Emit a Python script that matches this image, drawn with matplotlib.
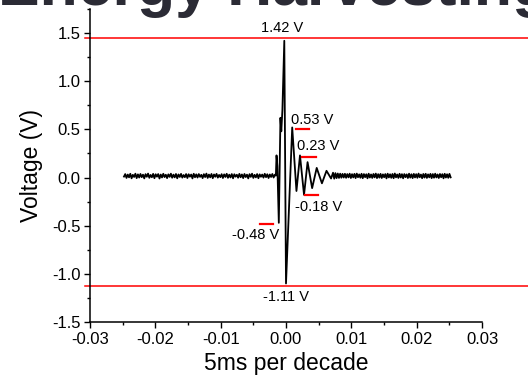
import numpy as np
import matplotlib
matplotlib.use("Agg")
import matplotlib.pyplot as plt
from matplotlib.ticker import MultipleLocator, FormatStrFormatter

plt.rcParams['font.family'] = ['Liberation Sans', 'DejaVu Sans']

# quiet part of the trace before the pulse (volts)
left_v = [0.010, 0.036, -0.004, 0.031, 0.002, 0.039, -0.008, 0.028, 0.006, 0.040,
          -0.006, 0.033, 0.000, 0.037, 0.004, 0.030, -0.009, 0.035, 0.008, 0.041,
          -0.003, 0.027, 0.003, 0.038, -0.007, 0.034, 0.009, 0.036, -0.010, 0.031,
          0.001, 0.039, 0.005, 0.029, -0.006, 0.033, 0.007, 0.040, -0.002, 0.030,
          0.002, 0.037, -0.008, 0.032, 0.006, 0.038, -0.001, 0.026, 0.004, 0.036,
          -0.005, 0.034, 0.009, 0.031, -0.009, 0.039, 0.003, 0.033, 0.000, 0.036,
          0.007, 0.028, -0.006, 0.035, 0.005, 0.041, -0.004, 0.031, 0.002, 0.037,
          -0.007, 0.032, 0.008, 0.038, -0.001, 0.027, 0.004, 0.035, -0.005, 0.033,
          0.006, 0.039, -0.003, 0.030, 0.001, 0.036, -0.008, 0.034, 0.009, 0.029,
          -0.002, 0.038, 0.003, 0.032, -0.006, 0.037, 0.005, 0.030, -0.009, 0.035,
          0.007, 0.040, -0.004, 0.028, 0.002, 0.036, -0.007, 0.033, 0.008, 0.031,
          -0.001, 0.039, 0.004, 0.034, -0.005, 0.032, 0.006, 0.037, 0.000, 0.030]
# the pulse itself, time in ms
burst_t = [-1.55, -1.45, -1.32, -1.10, -0.95, -0.85, -0.72, -0.55, -0.26, 0.00,
           0.95, 1.60, 2.14, 2.76, 3.30, 4.00, 4.70, 5.50, 6.20, 6.90]
burst_v = [0.02, 0.23, 0.12, -0.47, 0.15, 0.62, 0.48, 0.70, 1.42, -1.10,
           0.52, -0.14, 0.23, -0.18, 0.16, -0.11, 0.10, -0.06, 0.07, -0.01]
# quiet part after the ringing
right_v = [0.050, -0.012, 0.046, -0.006, 0.042, -0.004, 0.040, -0.002, 0.038, 0.000,
           0.039, -0.003, 0.036, 0.002, 0.040, -0.005, 0.035, 0.001, 0.038, -0.006,
           0.041, 0.003, 0.033, -0.002, 0.039, -0.007, 0.036, 0.004, 0.034, -0.008,
           0.040, 0.000, 0.032, -0.004, 0.037, 0.002, 0.041, -0.006, 0.035, -0.001,
           0.038, -0.005, 0.033, 0.003, 0.036, -0.009, 0.040, 0.001, 0.034, -0.003,
           0.037, -0.007, 0.042, 0.002, 0.032, -0.004, 0.039, 0.000, 0.035, -0.008,
           0.036, 0.004, 0.033, -0.005, 0.040, -0.001, 0.034, -0.006, 0.038, 0.001,
           0.035, -0.003, 0.041, 0.003, 0.031, -0.007, 0.037, 0.000, 0.039, -0.004,
           0.033, 0.002, 0.038, -0.006, 0.036, -0.002, 0.040, 0.001, 0.032, -0.005,
           0.037, 0.003, 0.035, -0.008, 0.039, 0.000, 0.034, -0.003, 0.038, 0.002]

# peak levels (red lines) and peak markers
levels = [1.45, -1.13]
mark_x0 = [0.0015, 0.00245, 0.0029, -0.0040]
mark_x1 = [0.0035, 0.00455, 0.0049, -0.0020]
mark_y = [0.50, 0.214, -0.177, -0.485]

labels = ["1.42 V", "0.53 V", "0.23 V", "-0.18 V", "-0.48 V", "-1.11 V"]
lab_x = [-0.0006, 0.00077, 0.00173, 0.00138, -0.00107, 0.0]
lab_y = [1.51, 0.56, 0.283, -0.347, -0.633, -1.285]
lab_ha = ["center", "left", "left", "left", "right", "center"]

t = np.concatenate([np.linspace(-0.0248, -0.0017, len(left_v)),
                    np.array(burst_t) / 1000.0,
                    np.linspace(0.0072, 0.0252, len(right_v))])
v = np.concatenate([left_v, burst_v, right_v])

fig = plt.figure(figsize=(5.28, 3.82), dpi=100)
ax = fig.add_axes([90/528, 60/382, 392/528, 313/382])

ax.plot(t, v, color='black', lw=1.3)

for y in levels:
    ax.plot([-0.0308, 0.0372], [y, y], color='red', lw=1.1, clip_on=False)
for x0, x1, y in zip(mark_x0, mark_x1, mark_y):
    ax.plot([x0, x1], [y, y], color='red', lw=1.6)

for s, x, y, ha in zip(labels, lab_x, lab_y, lab_ha):
    ax.text(x, y, s, ha=ha, va='baseline', fontsize=10.5)

ax.set_xlim(-0.03, 0.03)
ax.set_ylim(-1.5, 1.75)
ax.xaxis.set_major_locator(MultipleLocator(0.01))
ax.xaxis.set_minor_locator(MultipleLocator(0.005))
ax.yaxis.set_major_locator(MultipleLocator(0.5))
ax.yaxis.set_minor_locator(MultipleLocator(0.25))
ax.xaxis.set_major_formatter(FormatStrFormatter('%.2f'))
ax.yaxis.set_major_formatter(FormatStrFormatter('%.1f'))
ax.set_yticks([-1.5, -1.0, -0.5, 0.0, 0.5, 1.0, 1.5])
ax.tick_params(which='major', direction='out', length=4, width=1, labelsize=12, pad=3)
ax.tick_params(which='minor', direction='out', length=2.5, width=1)
for side in ['top', 'right']:
    ax.spines[side].set_visible(False)
for side in ['left', 'bottom']:
    ax.spines[side].set_linewidth(1.1)

ax.set_xlabel("5ms per decade", fontsize=16.5, labelpad=4)
ax.set_ylabel("Voltage (V)", fontsize=16.5, labelpad=6)

fig.text(-2/528, 1 - 5/382, "Energy Harvesting", fontsize=45, fontweight='bold',
         color='#2b2b35', va='baseline', ha='left')

fig.savefig("out.png", dpi=100)
